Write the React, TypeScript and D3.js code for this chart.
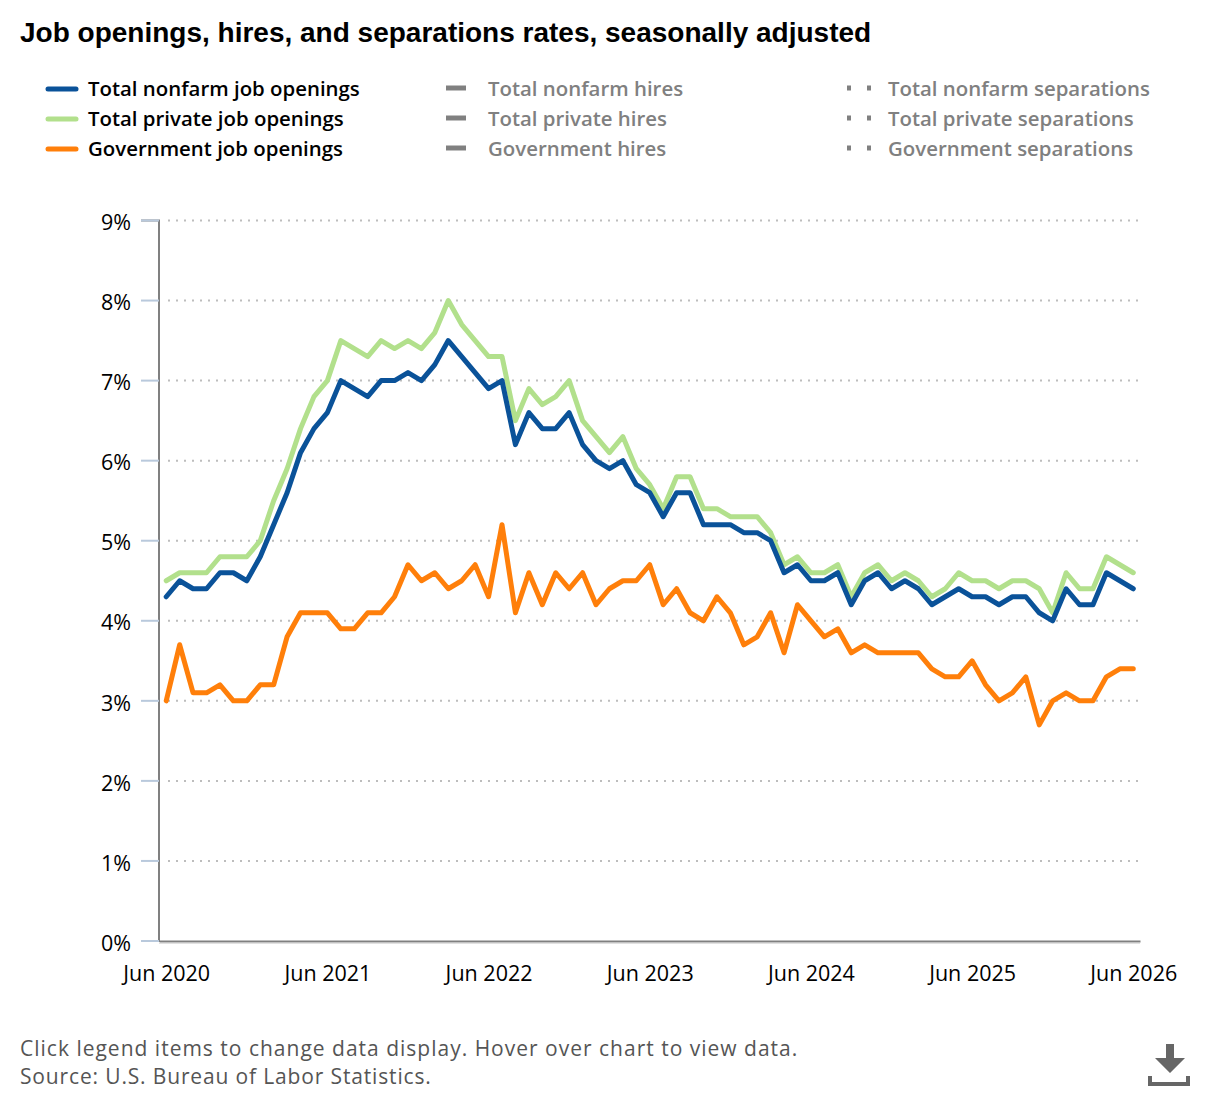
import React, { useRef, useEffect } from 'react'
import * as d3 from 'd3'

const width = 1220
const height = 1100
const margin = { top: 220.5, right: 80, bottom: 159, left: 159 }

const months = d3.timeMonth.range(new Date(2020, 5, 1), new Date(2026, 6, 1))
const xTickLabels = ['Jun 2020', 'Jun 2021', 'Jun 2022', 'Jun 2023', 'Jun 2024', 'Jun 2025', 'Jun 2026']
const yTicks = [0, 1, 2, 3, 4, 5, 6, 7, 8, 9]

const totalNonfarm = [
  4.3, 4.5, 4.4, 4.4, 4.6, 4.6, 4.5, 4.8, 5.2, 5.6, 6.1, 6.4,
  6.6, 7.0, 6.9, 6.8, 7.0, 7.0, 7.1, 7.0, 7.2, 7.5, 7.3, 7.1,
  6.9, 7.0, 6.2, 6.6, 6.4, 6.4, 6.6, 6.2, 6.0, 5.9, 6.0, 5.7,
  5.6, 5.3, 5.6, 5.6, 5.2, 5.2, 5.2, 5.1, 5.1, 5.0, 4.6, 4.7,
  4.5, 4.5, 4.6, 4.2, 4.5, 4.6, 4.4, 4.5, 4.4, 4.2, 4.3, 4.4,
  4.3, 4.3, 4.2, 4.3, 4.3, 4.1, 4.0, 4.4, 4.2, 4.2, 4.6, 4.5, 4.4
]
const totalPrivate = [
  4.5, 4.6, 4.6, 4.6, 4.8, 4.8, 4.8, 5.0, 5.5, 5.9, 6.4, 6.8,
  7.0, 7.5, 7.4, 7.3, 7.5, 7.4, 7.5, 7.4, 7.6, 8.0, 7.7, 7.5,
  7.3, 7.3, 6.5, 6.9, 6.7, 6.8, 7.0, 6.5, 6.3, 6.1, 6.3, 5.9,
  5.7, 5.4, 5.8, 5.8, 5.4, 5.4, 5.3, 5.3, 5.3, 5.1, 4.7, 4.8,
  4.6, 4.6, 4.7, 4.3, 4.6, 4.7, 4.5, 4.6, 4.5, 4.3, 4.4, 4.6,
  4.5, 4.5, 4.4, 4.5, 4.5, 4.4, 4.1, 4.6, 4.4, 4.4, 4.8, 4.7, 4.6
]
const government = [
  3.0, 3.7, 3.1, 3.1, 3.2, 3.0, 3.0, 3.2, 3.2, 3.8, 4.1, 4.1,
  4.1, 3.9, 3.9, 4.1, 4.1, 4.3, 4.7, 4.5, 4.6, 4.4, 4.5, 4.7,
  4.3, 5.2, 4.1, 4.6, 4.2, 4.6, 4.4, 4.6, 4.2, 4.4, 4.5, 4.5,
  4.7, 4.2, 4.4, 4.1, 4.0, 4.3, 4.1, 3.7, 3.8, 4.1, 3.6, 4.2,
  4.0, 3.8, 3.9, 3.6, 3.7, 3.6, 3.6, 3.6, 3.6, 3.4, 3.3, 3.3,
  3.5, 3.2, 3.0, 3.1, 3.3, 2.7, 3.0, 3.1, 3.0, 3.0, 3.3, 3.4, 3.4
]

const seriesNames = ['Total nonfarm job openings', 'Total private job openings', 'Government job openings']
const seriesColors = ['#0a5299', '#b2e08c', '#ff7f0a']
const seriesValues = [totalNonfarm, totalPrivate, government]
const hiresNames = ['Total nonfarm hires', 'Total private hires', 'Government hires']
const separationNames = ['Total nonfarm separations', 'Total private separations', 'Government separations']
const notes = ['Click legend items to change data display. Hover over chart to view data.', 'Source: U.S. Bureau of Labor Statistics.']

const uiFont = '"Open Sans", sans-serif'
const legendRowY = [89, 119, 149]

export default function App() {
  const svgRef = useRef<SVGSVGElement>(null)

  useEffect(() => {
    if (!svgRef.current) return
    const svg = d3.select(svgRef.current)
    svg.selectAll('*').remove()

    const xScale = d3.scalePoint<Date>()
      .domain(months)
      .range([margin.left + 0.5, width - margin.right])
      .padding(0.5)
    const yScale = d3.scaleLinear()
      .domain([0, 9])
      .range([height - margin.bottom, margin.top])

    svg.append('text')
      .attr('x', 20)
      .attr('y', 42)
      .attr('font-family', '"Liberation Sans", Arial, sans-serif')
      .attr('font-weight', 700)
      .attr('font-size', 28)
      .attr('fill', '#000')
      .text('Job openings, hires, and separations rates, seasonally adjusted')

    // легенда: три колонки, активна только первая
    const legend = svg.append('g').attr('font-family', uiFont).attr('font-size', 20.4).attr('font-weight', 600)
    seriesNames.forEach((name, i) => {
      legend.append('line')
        .attr('x1', 48).attr('x2', 76)
        .attr('y1', legendRowY[i]).attr('y2', legendRowY[i])
        .attr('stroke', seriesColors[i]).attr('stroke-width', 5).attr('stroke-linecap', 'round')
      legend.append('text').attr('x', 88).attr('y', legendRowY[i] + 7).attr('fill', '#000').text(name)
    })
    hiresNames.forEach((name, i) => {
      legend.append('line')
        .attr('x1', 446).attr('x2', 466)
        .attr('y1', legendRowY[i] - 1).attr('y2', legendRowY[i] - 1)
        .attr('stroke', '#808080').attr('stroke-width', 5)
      legend.append('text').attr('x', 488).attr('y', legendRowY[i] + 7).attr('fill', '#808080').text(name)
    })
    separationNames.forEach((name, i) => {
      legend.append('line')
        .attr('x1', 847).attr('x2', 872)
        .attr('y1', legendRowY[i] - 1).attr('y2', legendRowY[i] - 1)
        .attr('stroke', '#808080').attr('stroke-width', 5).attr('stroke-dasharray', '4 16')
      legend.append('text').attr('x', 888).attr('y', legendRowY[i] + 7).attr('fill', '#808080').text(name)
    })

    // пунктирная сетка
    svg.append('g')
      .selectAll('line')
      .data(yTicks.slice(1))
      .join('line')
      .attr('x1', margin.left + 9)
      .attr('x2', width - margin.right)
      .attr('y1', d => yScale(d))
      .attr('y2', d => yScale(d))
      .attr('stroke', '#bdbdbd')
      .attr('stroke-width', 2)
      .attr('stroke-dasharray', '2 6')

    const yAxis = svg.append('g')
      .attr('transform', `translate(${margin.left},0)`)
      .call(d3.axisLeft(yScale).tickValues(yTicks).tickFormat(d => `${d}%`).tickSize(18).tickPadding(10).offset(0))
    yAxis.select('.domain').attr('stroke', '#808080').attr('stroke-width', 2)
    yAxis.selectAll('.tick line').attr('stroke', '#b9c9dc').attr('stroke-width', 2)
    yAxis.selectAll('text').attr('font-family', uiFont).attr('font-size', 21.5).attr('fill', '#000').attr('dy', '0.45em')

    const labelMonths = months.filter((_, i) => i % 12 === 0)
    const xAxis = svg.append('g')
      .attr('transform', `translate(0,${height - margin.bottom})`)
      .call(d3.axisBottom(xScale)
        .tickValues(labelMonths)
        .tickFormat((_, i) => xTickLabels[i])
        .tickSize(0)
        .tickPadding(25)
        .offset(0.5))
    xAxis.select('.domain').attr('stroke', '#808080').attr('stroke-width', 2)
    xAxis.selectAll('text').attr('font-family', uiFont).attr('font-size', 21.5).attr('fill', '#000')
    // светлая кромка под осью
    xAxis.append('line')
      .attr('x1', margin.left)
      .attr('x2', width - margin.right)
      .attr('y1', 2)
      .attr('y2', 2)
      .attr('stroke', '#c4c4c4')
      .attr('stroke-width', 1)

    const line = d3.line<number>()
      .x((_, i) => xScale(months[i]) as number)
      .y(d => yScale(d))

    // порядок как в оригинале: зеленая под синей
    ;[1, 0, 2].forEach(i => {
      svg.append('path')
        .attr('d', line(seriesValues[i]))
        .attr('fill', 'none')
        .attr('stroke', seriesColors[i])
        .attr('stroke-width', 5)
        .attr('stroke-linejoin', 'round')
        .attr('stroke-linecap', 'round')
    })

    svg.append('g')
      .selectAll('text')
      .data(notes)
      .join('text')
      .attr('x', 20)
      .attr('y', (_, i) => 1056 + i * 28)
      .attr('font-family', uiFont)
      .attr('font-size', 21)
      .attr('fill', '#555')
      .attr('letter-spacing', (_, i) => (i === 0 ? 1 : 0.85))
      .text(d => d)

    const icon = svg.append('g').attr('fill', '#666')
    icon.append('path').attr('d', 'M1166 1044h8v14h11l-15 15-15-15h11z')
    icon.append('path').attr('d', 'M1148 1076h4v6h34v-6h4v10h-42z')
  }, [])

  return (
    <svg
      ref={svgRef}
      width={width}
      height={height}
      style={{ position: 'absolute', left: 0, top: 0, background: '#fff' }}
    />
  )
}
